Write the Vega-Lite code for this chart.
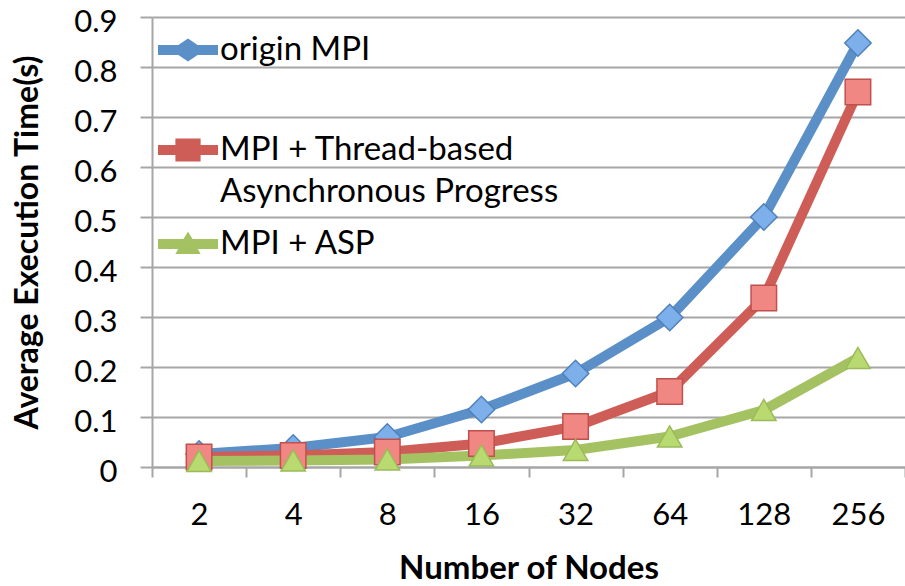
{
  "$schema": "https://vega.github.io/schema/vega-lite/v6.json",
  "autosize": {"type": "none"},
  "padding": {"left": 152, "top": 17, "right": 0, "bottom": 119},
  "width": 753,
  "height": 450,
  "background": "white",
  "config": {
    "font": "Lato",
    "view": {"stroke": null}
  },
  "data": {
    "values": [
      {"nodes": "2", "series": "origin MPI", "time": 0.026},
      {"nodes": "4", "series": "origin MPI", "time": 0.038},
      {"nodes": "8", "series": "origin MPI", "time": 0.06},
      {"nodes": "16", "series": "origin MPI", "time": 0.115},
      {"nodes": "32", "series": "origin MPI", "time": 0.187},
      {"nodes": "64", "series": "origin MPI", "time": 0.299},
      {"nodes": "128", "series": "origin MPI", "time": 0.5},
      {"nodes": "256", "series": "origin MPI", "time": 0.848},
      {"nodes": "2", "series": "MPI + Thread-based Asynchronous Progress", "time": 0.02},
      {"nodes": "4", "series": "MPI + Thread-based Asynchronous Progress", "time": 0.023},
      {"nodes": "8", "series": "MPI + Thread-based Asynchronous Progress", "time": 0.03},
      {"nodes": "16", "series": "MPI + Thread-based Asynchronous Progress", "time": 0.047},
      {"nodes": "32", "series": "MPI + Thread-based Asynchronous Progress", "time": 0.081},
      {"nodes": "64", "series": "MPI + Thread-based Asynchronous Progress", "time": 0.151},
      {"nodes": "128", "series": "MPI + Thread-based Asynchronous Progress", "time": 0.338},
      {"nodes": "256", "series": "MPI + Thread-based Asynchronous Progress", "time": 0.75},
      {"nodes": "2", "series": "MPI + ASP", "time": 0.012},
      {"nodes": "4", "series": "MPI + ASP", "time": 0.013},
      {"nodes": "8", "series": "MPI + ASP", "time": 0.015},
      {"nodes": "16", "series": "MPI + ASP", "time": 0.023},
      {"nodes": "32", "series": "MPI + ASP", "time": 0.034},
      {"nodes": "64", "series": "MPI + ASP", "time": 0.061},
      {"nodes": "128", "series": "MPI + ASP", "time": 0.114},
      {"nodes": "256", "series": "MPI + ASP", "time": 0.218}
    ]
  },
  "encoding": {
    "x": {
      "field": "nodes",
      "type": "ordinal",
      "sort": ["2", "4", "8", "16", "32", "64", "128", "256"],
      "scale": {"type": "band", "domain": ["2", "4", "8", "16", "32", "64", "128", "256"], "paddingInner": 0, "paddingOuter": 0},
      "axis": {
        "title": "Number of Nodes",
        "labelAngle": 0,
        "tickBand": "extent",
        "tickSize": 10,
        "tickWidth": 2,
        "tickColor": "#A6A6A6",
        "domainColor": "#A6A6A6",
        "domainWidth": 2,
        "labelFontSize": 31,
        "labelColor": "#000000",
        "labelPadding": 23,
        "titleFontSize": 33,
        "titleFontWeight": "bold",
        "titleColor": "#000000",
        "titlePadding": 22,
        "grid": false
      }
    },
    "y": {
      "field": "time",
      "type": "quantitative",
      "scale": {"domain": [0, 0.9], "nice": false, "zero": true},
      "axis": {
        "title": "Average Execution Time(s)",
        "values": [0, 0.1, 0.2, 0.3, 0.4, 0.5, 0.6, 0.7, 0.8, 0.9],
        "format": ".1~f",
        "tickSize": 12,
        "tickWidth": 2,
        "tickColor": "#A6A6A6",
        "domainColor": "#A6A6A6",
        "domainWidth": 2,
        "gridColor": "#A6A6A6",
        "gridWidth": 2,
        "labelFontSize": 31,
        "labelColor": "#000000",
        "labelPadding": 23,
        "labelOffset": 5,
        "labelBaseline": "middle",
        "labelBound": false,
        "titleFontSize": 32,
        "titleFontWeight": "bold",
        "titleColor": "#000000",
        "titlePadding": 29
      }
    }
  },
  "layer": [
    {
      "mark": {"type": "line", "strokeWidth": 10, "strokeCap": "round", "strokeJoin": "round"},
      "encoding": {
        "color": {
          "field": "series",
          "type": "nominal",
          "scale": {"domain": ["origin MPI", "MPI + Thread-based Asynchronous Progress", "MPI + ASP"], "range": ["#5A8FC8", "#CF5D57", "#A5C263"]},
          "legend": null
        }
      }
    },
    {
      "mark": {"type": "point", "filled": true, "opacity": 1, "strokeWidth": 1.5},
      "encoding": {
        "shape": {
          "field": "series",
          "type": "nominal",
          "scale": {"domain": ["origin MPI", "MPI + Thread-based Asynchronous Progress", "MPI + ASP"], "range": ["diamond", "square", "triangle-up"]},
          "legend": null
        },
        "size": {
          "field": "series",
          "type": "nominal",
          "scale": {"domain": ["origin MPI", "MPI + Thread-based Asynchronous Progress", "MPI + ASP"], "range": [700, 600, 760]},
          "legend": null
        },
        "fill": {
          "field": "series",
          "type": "nominal",
          "scale": {"domain": ["origin MPI", "MPI + Thread-based Asynchronous Progress", "MPI + ASP"], "range": ["#7DB0EA", "#F08782", "#B8DA70"]},
          "legend": null
        },
        "stroke": {
          "field": "series",
          "type": "nominal",
          "scale": {"domain": ["origin MPI", "MPI + Thread-based Asynchronous Progress", "MPI + ASP"], "range": ["#4F81BD", "#C0504D", "#9BBB59"]},
          "legend": null
        }
      }
    },
    {
      "transform": [{"filter": "false"}],
      "mark": {"type": "point", "filled": true},
      "encoding": {
        "color": {
          "field": "series",
          "type": "nominal",
          "scale": {"domain": ["origin MPI", "MPI + Thread-based Asynchronous Progress", "MPI + ASP"], "range": ["#5A8FC8", "#CF5D57", "#A5C263"]},
          "legend": {
            "title": null,
            "orient": "none",
            "legendX": 6,
            "legendY": 3,
            "padding": 0,
            "symbolSize": 3600,
            "symbolStrokeWidth": 0,
            "symbolOpacity": 1,
            "labelFontSize": 33,
            "labelColor": "#000000",
            "labelOffset": 2,
            "labelLimit": 600,
            "rowPadding": 5,
            "labelExpr": "datum.label == 'MPI + Thread-based Asynchronous Progress' ? ['MPI + Thread-based', 'Asynchronous Progress'] : datum.label",
            "encode": {"labels": {"update": {"lineHeight": {"value": 42}}}}
          }
        },
        "shape": {
          "field": "series",
          "type": "nominal",
          "scale": {
            "domain": ["origin MPI", "MPI + Thread-based Asynchronous Progress", "MPI + ASP"],
            "range": [
              "M-1,-0.167H-0.32L0,-0.38L0.32,-0.167H1V0.167H0.32L0,0.38L-0.32,0.167H-1Z",
              "M0,-2.6M-1,-0.167H-0.42V-0.38H0.42V-0.167H1V0.167H0.42V0.38H-0.42V0.167H-1Z",
              "M-1,-0.167H-0.15L0,-0.42L0.15,-0.167H1V0.167H0.33L0.42,0.33H-0.42L-0.33,0.167H-1Z"
            ]
          },
          "legend": {
            "title": null,
            "orient": "none",
            "legendX": 6,
            "legendY": 3,
            "padding": 0,
            "symbolSize": 3600,
            "symbolStrokeWidth": 0,
            "symbolOpacity": 1,
            "labelFontSize": 33,
            "labelColor": "#000000",
            "labelOffset": 2,
            "labelLimit": 600,
            "rowPadding": 5,
            "labelExpr": "datum.label == 'MPI + Thread-based Asynchronous Progress' ? ['MPI + Thread-based', 'Asynchronous Progress'] : datum.label",
            "encode": {"labels": {"update": {"lineHeight": {"value": 42}}}}
          }
        }
      }
    }
  ],
  "resolve": {"scale": {"color": "independent", "shape": "independent"}}
}
